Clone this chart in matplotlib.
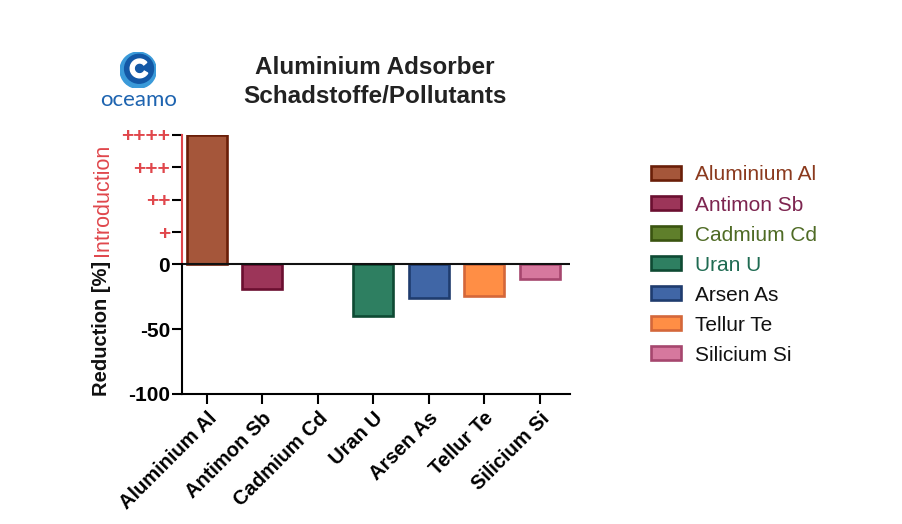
import matplotlib
matplotlib.use('Agg')
import matplotlib.pyplot as plt
from matplotlib.patches import Patch, Circle, Wedge

plt.rcParams['font.family'] = ['Liberation Sans', 'DejaVu Sans']

# Data
categories = ['Aluminium Al', 'Antimon Sb', 'Cadmium Cd', 'Uran U',
              'Arsen As', 'Tellur Te', 'Silicium Si']
values = [100, -19, 0, -40, -26, -24, -11]
fill_colors = ['#A5563A', '#9C3559', '#5F7F2B', '#2E7F61', '#4066A6', '#FF8E45', '#D6789E']
edge_colors = ['#6A1E08', '#6B0F30', '#3A5410', '#0E4A33', '#1F3C6E', '#D4673A', '#A6466E']
legend_text_colors = ['#8B3A1E', '#7D2550', '#4F6B25', '#1F6B52', '#111111', '#111111', '#111111']

ytick_values = [-100, -50, 0, 25, 50, 75, 100]
ytick_labels = ['-100', '-50', '0', '+', '++', '+++', '++++']

RED = '#E0474C'

fig = plt.figure(figsize=(9.03, 5.24), dpi=100)
ax = fig.add_axes([0.2016, 0.2481, 0.4297, 0.4943])

x = range(len(categories))
# zero-height bars get no outline (nothing visible in the original)
edge_widths = [1.9 if v != 0 else 0 for v in values]
ax.bar(x, values, width=0.72, color=fill_colors, edgecolor=edge_colors, linewidth=edge_widths)

ax.set_xlim(-0.45, 6.55)
ax.set_ylim(-100, 100)

# axes styling
ax.spines['top'].set_visible(False)
ax.spines['right'].set_visible(False)
ax.spines['left'].set_bounds(-100, 0)
ax.spines['left'].set_linewidth(1.5)
ax.spines['bottom'].set_linewidth(1.5)
ax.axhline(0, color='#111111', lw=1.5)
# red upper part of the y axis
ax.plot([0, 0], [0, 100], transform=ax.get_yaxis_transform(), color=RED,
        lw=1.5, clip_on=False)

ax.set_yticks(ytick_values)
ax.set_yticklabels(ytick_labels, fontsize=15, fontweight='bold')
ax.tick_params(axis='both', length=7, width=1.5, direction='out')
ax.tick_params(axis='y', pad=1.5)
for val, tick in zip(ytick_values, ax.yaxis.get_major_ticks()):
    if val > 0:
        tick.tick1line.set_color(RED)
        tick.label1.set_color(RED)

ax.set_xticks(list(x))
ax.set_xticklabels(categories, rotation=45, ha='right', rotation_mode='anchor',
                   fontsize=14.5, fontweight='bold')

# y labels
fig.text(0.112, 0.374, 'Reduction [%]', rotation=90, ha='center', va='center',
         fontsize=14.5, fontweight='bold', color='#111111')
fig.text(0.113, 0.618, 'Introduction', rotation=90, ha='center', va='center',
         fontsize=15.5, color=RED)

# title
fig.text(0.415, 0.8435, 'Aluminium Adsorber\nSchadstoffe/Pollutants', ha='center',
         va='center', fontsize=17.5, fontweight='bold', color='#222222', linespacing=1.35)

# logo
lax = fig.add_axes([0.133, 0.831, 0.04, 0.07])
lax.set_xlim(-1, 1)
lax.set_ylim(-1, 1)
lax.set_aspect('equal')
lax.axis('off')
lax.add_patch(Circle((0, 0), 1.0, color='#3A9AD9'))
lax.add_patch(Circle((0.05, 0.08), 0.8, color='#1358A6'))
lax.add_patch(Wedge((0.08, 0.1), 0.52, 40, 330, width=0.22, color='white'))
fig.text(0.153, 0.81, 'oceamo', ha='center', va='center', fontsize=16,
         color='#1E64B0', family=['Lato', 'DejaVu Sans'])

# legend
handles = [Patch(facecolor=fc, edgecolor=ec, linewidth=1.9)
           for fc, ec in zip(fill_colors, edge_colors)]
leg = fig.legend(handles, categories, loc='upper left', bbox_to_anchor=(0.7, 0.72),
                 frameon=False, fontsize=15, handlelength=1.45, handleheight=0.65,
                 handletextpad=0.65, labelspacing=0.53)
for txt, c in zip(leg.get_texts(), legend_text_colors):
    txt.set_color(c)

fig.savefig('out.png', dpi=100, facecolor='white')
